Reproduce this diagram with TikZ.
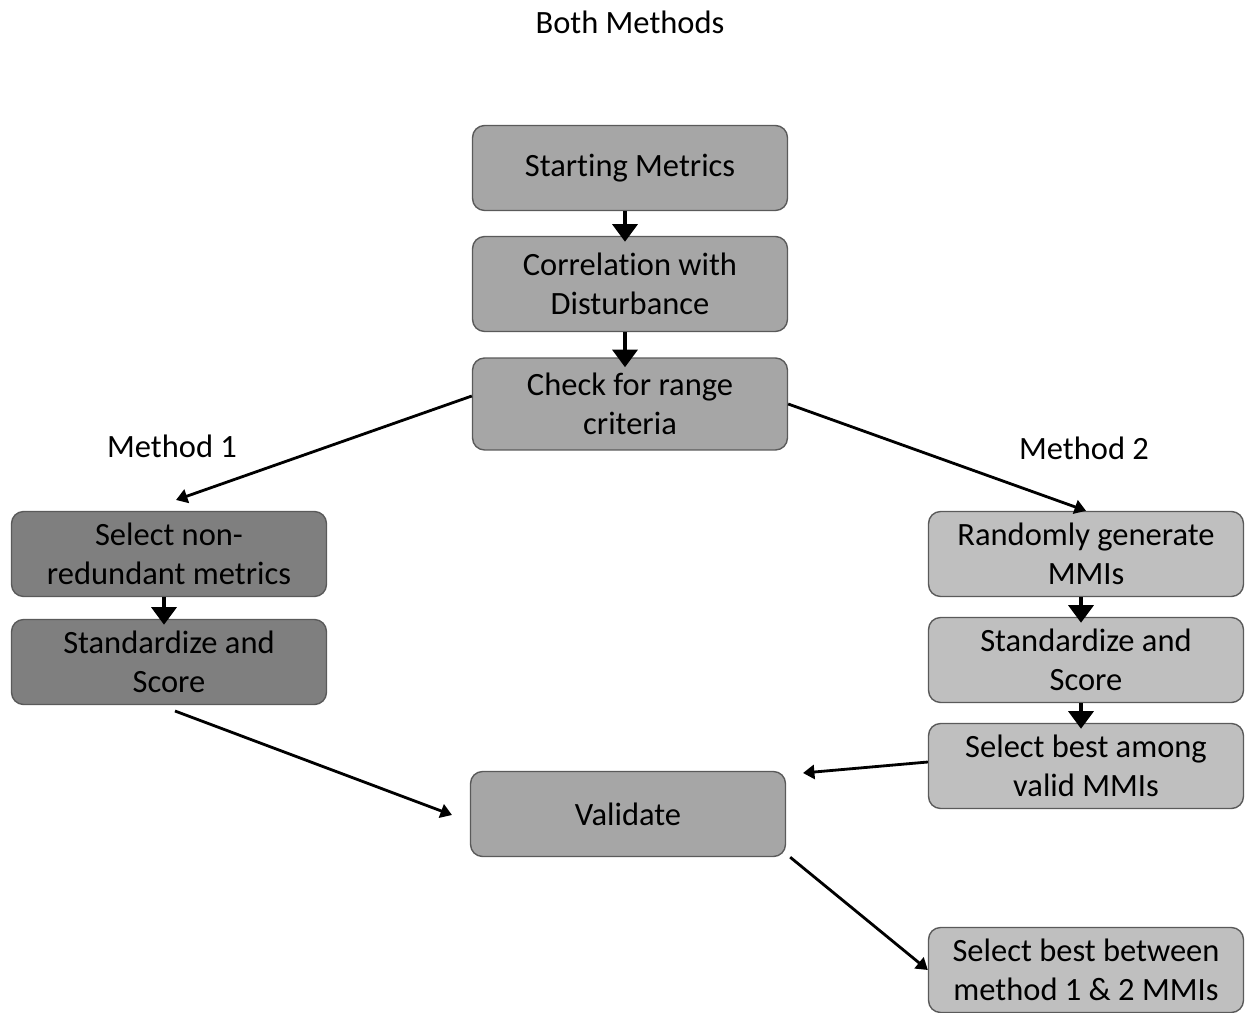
\documentclass[tikz,border=0pt]{standalone}
\usepackage{fontspec}
\setmainfont{Carlito}[Ligatures=NoCommon]
\usetikzlibrary{arrows.meta}

\definecolor{boxline}{HTML}{5A5A5A}
\definecolor{midgrey}{HTML}{A6A6A6}
\definecolor{darkgrey}{HTML}{7F7F7F}
\definecolor{lightgrey}{HTML}{BFBFBF}

\tikzset{
    box/.style={draw=boxline, line width=0.8pt, rounded corners=0.24cm,
        minimum width=6.3cm, minimum height=1.7cm, inner sep=0pt,
        align=center, font=\fontsize{18.5}{22}\selectfont},
    label/.style={font=\fontsize{18.5}{22}\selectfont},
    down/.style={-{Triangle[width=14pt,length=10pt]}, line width=2.6pt, shorten >=-0.12cm},
    link/.style={-{Triangle[width=8pt,length=6.5pt]}, line width=1.6pt}
}

\begin{document}
\begin{tikzpicture}[x=0.02cm, y=-0.02cm]

    % Fix the size of the page
    \useasboundingbox (0,0) rectangle (1248,1013);

    % Define the shift of the short arrows
    \def\shift{-0.1cm}

    % Draw the titles
    \node[label] (both) at (630,22) {Both Methods};
    \node[label] (meth1) at (172,446) {Method 1};
    \node[label] (meth2) at (1084,448) {Method 2};

    % Draw the common steps
    \node[box, fill=midgrey] (start) at (630,168) {Starting Metrics};
    \node[box, fill=midgrey, minimum height=1.9cm] (corr) at (630,284) {Correlation with\\Disturbance};
    \node[box, fill=midgrey, minimum height=1.84cm] (check) at (630,404) {Check for range\\criteria};

    % Draw the steps of method 1
    \node[box, fill=darkgrey] (nonred) at (169,554) {Select non-\\redundant metrics};
    \node[box, fill=darkgrey] (stdleft) at (169,662) {Standardize and\\Score};

    % Draw the steps of method 2
    \node[box, fill=lightgrey] (random) at (1086,554) {Randomly generate\\MMIs};
    \node[box, fill=lightgrey] (stdright) at (1086,660) {Standardize and\\Score};
    \node[box, fill=lightgrey] (among) at (1086,766) {Select best among\\valid MMIs};

    % Draw the final steps
    \node[box, fill=midgrey] (valid) at (628,814) {Validate};
    \node[box, fill=lightgrey] (between) at (1086,970) {Select best between\\method 1 \& 2 MMIs};

    % Free ends of the arrows
    \coordinate (m1in) at (176,500);
    \coordinate (m1out) at (175,711);
    \coordinate (valleft) at (452,815);
    \coordinate (valright) at (803,773);

    % Draw the short arrows
    \draw[down] ([xshift=\shift]start.south) -- ([xshift=\shift]corr.north);
    \draw[down] ([xshift=\shift]corr.south) -- ([xshift=\shift, yshift=-0.08cm]check.north);
    \draw[down] ([xshift=\shift]nonred.south) -- ([xshift=\shift]stdleft.north);
    \draw[down] ([xshift=\shift]random.south) -- ([xshift=\shift]stdright.north);
    \draw[down] ([xshift=\shift]stdright.south) -- ([xshift=\shift]among.north);

    % Draw the long arrows
    \draw[link] ([yshift=0.16cm]check.west) -- (m1in);
    \draw[link] (check.east) -- (random.north);
    \draw[link] (m1out) -- (valleft);
    \draw[link] ([yshift=0.08cm]among.west) -- (valright);
    \draw[link] ([xshift=0.08cm]valid.south east) -- (between.west);

\end{tikzpicture}
\end{document}
